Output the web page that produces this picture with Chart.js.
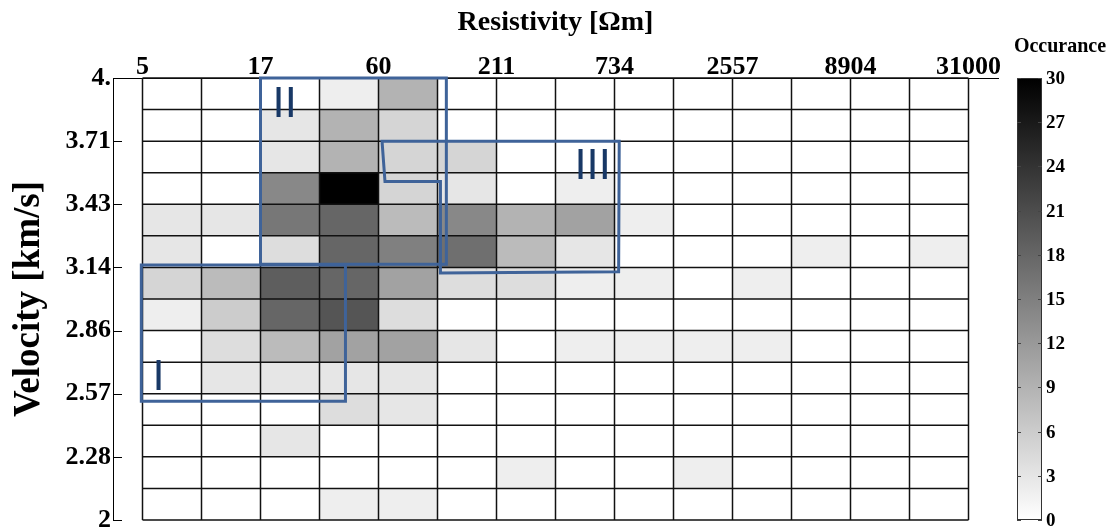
<!DOCTYPE html>
<html>
<head>
<meta charset="utf-8">
<script src="https://cdn.jsdelivr.net/npm/chart.js@4.4.1/dist/chart.umd.min.js"></script>
<style>
  html, body { margin: 0; padding: 0; background: #ffffff; }
  #wrap { width: 1113px; height: 529px; }
</style>
</head>
<body>
<div id="wrap"><canvas id="chart" width="1113" height="529"></canvas></div>
<script>
// Axis tick labels, placed on every second bin edge
const resistivityTicks = ['5', '17', '60', '211', '734', '2557', '8904', '31000'];
const velocityTicks = ['2', '2.28', '2.57', '2.86', '3.14', '3.43', '3.71', '4.'];
const colorbarTicks = [0, 3, 6, 9, 12, 15, 18, 21, 24, 27, 30];
const countMax = 30;

// Occurrence counts per bin. One array per velocity bin, listed from the
// 4.0 km/s bin down to the 2.0 km/s bin; columns run from 5 to 31000 Ohm-m.
const v3_86_4_00 = [0, 0, 0, 2, 9, 0, 0, 0, 0, 0, 0, 0, 0, 0];
const v3_71_3_86 = [0, 0, 3, 9, 5, 0, 0, 0, 0, 0, 0, 0, 0, 0];
const v3_57_3_71 = [0, 0, 3, 9, 5, 5, 0, 0, 0, 0, 0, 0, 0, 0];
const v3_43_3_57 = [0, 0, 14, 30, 5, 3, 0, 2, 0, 0, 0, 0, 0, 0];
const v3_29_3_43 = [3, 3, 16, 18, 8, 14, 9, 11, 2, 0, 0, 0, 0, 0];
const v3_14_3_29 = [3, 0, 4, 18, 15, 17, 8, 3, 0, 0, 0, 2, 0, 2];
const v3_00_3_14 = [5, 8, 19, 18, 11, 4, 4, 2, 2, 0, 2, 0, 0, 0];
const v2_86_3_00 = [2, 6, 18, 20, 4, 0, 0, 0, 0, 0, 0, 0, 0, 0];
const v2_71_2_86 = [0, 4, 8, 11, 11, 3, 0, 2, 2, 2, 2, 0, 0, 0];
const v2_57_2_71 = [0, 3, 3, 3, 3, 0, 0, 0, 0, 0, 0, 0, 0, 0];
const v2_43_2_57 = [0, 0, 0, 4, 3, 0, 0, 0, 0, 0, 0, 0, 0, 0];
const v2_28_2_43 = [0, 0, 3, 0, 0, 0, 0, 0, 0, 0, 0, 0, 0, 0];
const v2_14_2_28 = [0, 0, 0, 0, 0, 0, 2, 0, 0, 2, 0, 0, 0, 0];
const v2_00_2_14 = [0, 0, 0, 2, 2, 0, 0, 0, 0, 0, 0, 0, 0, 0];

const countRows = [v3_86_4_00, v3_71_3_86, v3_57_3_71, v3_43_3_57, v3_29_3_43,
                   v3_14_3_29, v3_00_3_14, v2_86_3_00, v2_71_2_86, v2_57_2_71,
                   v2_43_2_57, v2_28_2_43, v2_14_2_28, v2_00_2_14];
const nRows = countRows.length;
const nCols = countRows[0].length;

// Outlined clusters, in bin units (x: resistivity bin edge, y: velocity bin edge from bottom)
const regionI = [[-0.02, 8.08], [3.44, 8.08], [3.44, 3.76], [-0.02, 3.76]];
const regionII = [[2.0, 14.0], [5.15, 14.0], [5.15, 8.1], [2.0, 8.1]];
const regionIII = [[4.06, 12.0], [8.08, 12.0], [8.07, 7.86], [5.05, 7.82], [5.05, 10.72], [4.11, 10.72]];
const regionLabels = [
  { text: 'I', x: 0.27, y: 4.45 },
  { text: 'II', x: 2.41, y: 13.1 },
  { text: 'III', x: 7.63, y: 11.15 }
];

// One point per bin centre
const cells = [];
countRows.forEach((row, r) => {
  row.forEach((v, c) => {
    cells.push({ x: c + 0.5, y: nRows - r - 0.5, v: v });
  });
});

const serif = "'Liberation Serif', 'Times New Roman', serif";
const grayOf = v => {
  const g = Math.round(255 * (1 - Math.min(v, countMax) / countMax));
  return `rgb(${g},${g},${g})`;
};

const heatmapPlugin = {
  id: 'heatmap',
  beforeDatasetsDraw(chart) {
    const { ctx, scales: { x, y } } = chart;
    const data = chart.data.datasets[0].data;
    ctx.save();
    data.forEach(p => {
      if (!p.v) return;
      const x0 = x.getPixelForValue(p.x - 0.5), x1 = x.getPixelForValue(p.x + 0.5);
      const y0 = y.getPixelForValue(p.y + 0.5), y1 = y.getPixelForValue(p.y - 0.5);
      ctx.fillStyle = grayOf(p.v);
      ctx.fillRect(x0, y0, x1 - x0, y1 - y0);
    });
    // cell borders
    ctx.strokeStyle = '#111111';
    ctx.lineWidth = 1.5;
    ctx.beginPath();
    const top = y.getPixelForValue(nRows), bottom = y.getPixelForValue(0);
    const left = x.getPixelForValue(0), right = x.getPixelForValue(nCols);
    for (let i = 0; i <= nCols; i++) {
      const px = x.getPixelForValue(i);
      ctx.moveTo(px, top); ctx.lineTo(px, bottom);
    }
    for (let j = 0; j <= nRows; j++) {
      const py = y.getPixelForValue(j);
      ctx.moveTo(left, py); ctx.lineTo(right, py);
    }
    ctx.stroke();
    // inward tick marks on the velocity axis
    ctx.strokeStyle = '#000';
    ctx.lineWidth = 1;
    ctx.beginPath();
    y.ticks.forEach(t => {
      const py = Math.round(y.getPixelForValue(t.value)) + 0.5;
      ctx.moveTo(chart.chartArea.left, py); ctx.lineTo(chart.chartArea.left + 9, py);
    });
    ctx.stroke();
    ctx.restore();
  },
  afterDatasetsDraw(chart) {
    const { ctx, scales: { x, y } } = chart;
    ctx.save();
    ctx.strokeStyle = '#3f6399';
    ctx.lineWidth = 3;
    ctx.lineJoin = 'miter';
    [regionI, regionII, regionIII].forEach(poly => {
      ctx.beginPath();
      poly.forEach(([vx, vy], i) => {
        const px = x.getPixelForValue(vx), py = y.getPixelForValue(vy);
        if (i === 0) ctx.moveTo(px, py); else ctx.lineTo(px, py);
      });
      ctx.closePath();
      ctx.stroke();
    });
    ctx.fillStyle = '#183866';
    ctx.font = "41px 'DejaVu Sans'";
    ctx.textAlign = 'center';
    ctx.textBaseline = 'middle';
    regionLabels.forEach(l => {
      ctx.fillText(l.text, x.getPixelForValue(l.x), y.getPixelForValue(l.y));
    });
    ctx.restore();
  },
  afterDraw(chart) {
    // colour bar
    const { ctx, chartArea } = chart;
    const bx = 1017, bw = 25, by = chartArea.top, bh = chartArea.bottom - chartArea.top;
    ctx.save();
    const grad = ctx.createLinearGradient(0, by + bh, 0, by);
    grad.addColorStop(0, grayOf(0));
    grad.addColorStop(1, grayOf(countMax));
    ctx.fillStyle = grad;
    ctx.fillRect(bx, by, bw, bh);
    ctx.strokeStyle = '#333';
    ctx.lineWidth = 1;
    ctx.strokeRect(bx + 0.5, by + 0.5, bw - 1, bh - 1);
    ctx.fillStyle = '#000';
    ctx.font = `bold 19px ${serif}`;
    ctx.textAlign = 'left';
    ctx.textBaseline = 'middle';
    colorbarTicks.forEach(t => {
      const py = by + bh - (t / countMax) * bh;
      ctx.strokeStyle = '#444';
      ctx.beginPath();
      ctx.moveTo(bx, Math.round(py) + 0.5); ctx.lineTo(bx + 4, Math.round(py) + 0.5);
      ctx.moveTo(bx + bw - 4, Math.round(py) + 0.5); ctx.lineTo(bx + bw, Math.round(py) + 0.5);
      ctx.stroke();
      ctx.fillText(String(t), bx + bw + 4, py + 1);
    });
    ctx.font = `bold 20px ${serif}`;
    ctx.textAlign = 'center';
    ctx.fillText('Occurance', 1060, 47);
    ctx.restore();
  }
};

new Chart(document.getElementById('chart'), {
  type: 'scatter',
  data: {
    datasets: [{
      data: cells,
      pointRadius: 0,
      pointHoverRadius: 0,
      showLine: false
    }]
  },
  options: {
    responsive: false,
    animation: false,
    devicePixelRatio: 1,
    events: [],
    layout: { padding: { left: 0, top: 0, right: 115, bottom: 9 } },
    plugins: { legend: { display: false }, tooltip: { enabled: false } },
    scales: {
      x: {
        type: 'linear',
        position: 'top',
        min: -0.5,
        max: nCols + 0.5,
        afterBuildTicks: s => { s.ticks = resistivityTicks.map((_, i) => ({ value: i * 2 })); },
        afterFit: s => { s.height = 78; s.paddingLeft = 0; s.paddingRight = 0; },
        ticks: {
          callback: v => resistivityTicks[v / 2],
          autoSkip: false,
          maxRotation: 0,
          padding: -5,
          color: '#000',
          font: { family: serif, size: 26, weight: 'bold' }
        },
        grid: { display: false, drawTicks: false },
        border: { display: true, color: '#000', width: 1 },
        title: {
          display: true,
          text: 'Resistivity [Ωm]',
          color: '#000',
          padding: { top: 6, bottom: 0 },
          font: { family: serif, size: 28, weight: 'bold' }
        }
      },
      y: {
        type: 'linear',
        min: 0,
        max: nRows,
        afterBuildTicks: s => { s.ticks = velocityTicks.map((_, i) => ({ value: i * 2 })); },
        afterFit: s => { s.width = 113; s.paddingTop = 0; s.paddingBottom = 0; },
        ticks: {
          callback: v => velocityTicks[v / 2],
          autoSkip: false,
          padding: 2,
          color: '#000',
          font: { family: serif, size: 26, weight: 'bold' }
        },
        grid: { display: false, drawTicks: false },
        border: { display: true, color: '#000', width: 1 },
        title: {
          display: true,
          text: 'Velocity [km/s]',
          color: '#000',
          padding: { top: 7, bottom: 0 },
          font: { family: serif, size: 37, weight: 'bold' }
        }
      }
    }
  },
  plugins: [heatmapPlugin]
});
</script>
</body>
</html>
